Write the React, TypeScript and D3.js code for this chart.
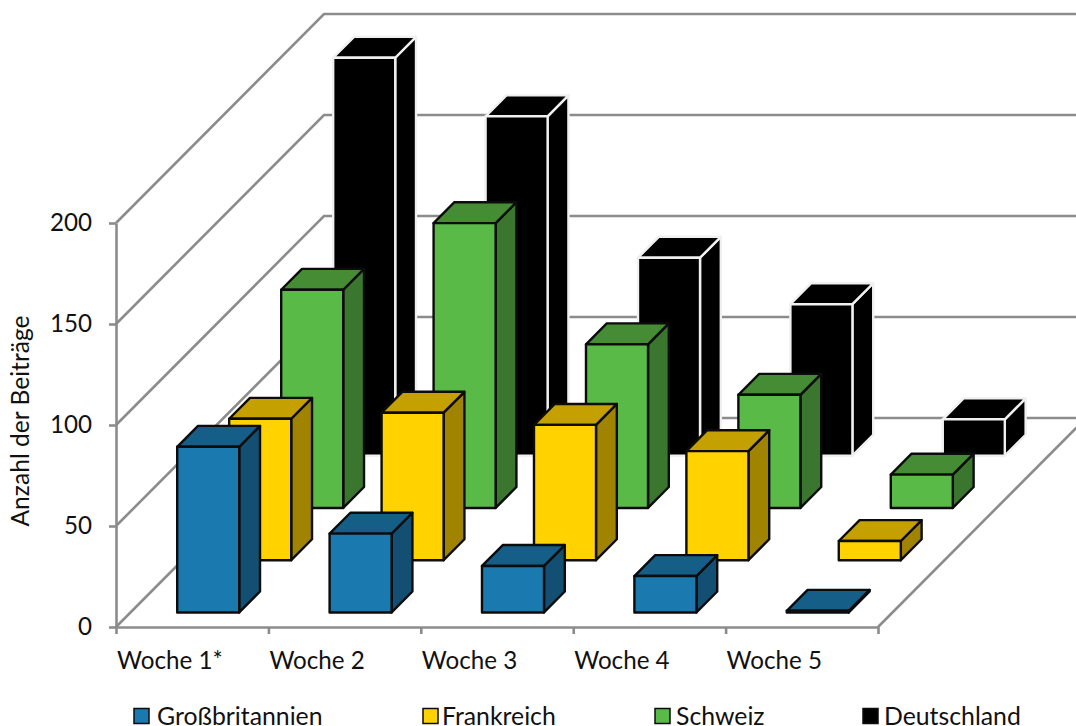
import * as d3 from 'd3'
import { useEffect, useRef } from 'react'

const WIDTH = 1076
const HEIGHT = 726
const FONT = 'Lato, sans-serif'

const weeks = ['Woche 1*', 'Woche 2', 'Woche 3', 'Woche 4', 'Woche 5']
const seriesNames = ['Großbritannien', 'Frankreich', 'Schweiz', 'Deutschland']
const grossbritannien = [82, 39, 23, 18, 0.8]
const frankreich = [70, 73, 67, 54, 9.5]
const schweiz = [108, 141, 81, 56, 16.5]
const deutschland = [197, 168, 98, 75, 18]
const seriesValues = [grossbritannien, frankreich, schweiz, deutschland]
const yTicks = [0, 50, 100, 150, 200]

const frontColors = ['#1a7aaf', '#ffd200', '#5aba47', '#000000']
const topColors = ['#155e87', '#c4a000', '#458c34', '#000000']
const sideColors = ['#124f72', '#a08400', '#3a762d', '#000000']
const edgeColors = ['#0c0c0c', '#0c0c0c', '#0c0c0c', '#f0f0f0']
const legendX = [134, 423, 655, 863]
const legendTextX = [157, 442, 676, 884]

const GRID = '#8c8c8c'
const LEFT = 116
const RIGHT = 878
const BASE_Y = 627
const TOP_Y = 223
const DEPTH_X = 208
const DEPTH_Y = 209
const DEPTH_SHIFT = 1.1
const BAR_SHIFT = 1.5

export default function App() {
  const svgRef = useRef<SVGSVGElement>(null)

  useEffect(() => {
    if (!svgRef.current) return
    const svg = d3.select(svgRef.current)
    svg.selectAll('*').remove()

    const y = d3.scaleLinear().domain([0, 200]).range([BASE_Y, TOP_Y])
    const xAxisScale = d3.scaleLinear().domain([0, weeks.length]).range([LEFT, RIGHT])
    const x = d3.scaleBand<string>().domain(weeks)
      .range([LEFT + BAR_SHIFT, RIGHT + BAR_SHIFT])
      .paddingInner(0.593)
      .paddingOuter(0.2965)
    // depth runs back along the oblique floor, same band for dx and dy
    const depth = d3.scaleBand<string>().domain(seriesNames)
      .range([-DEPTH_SHIFT, DEPTH_Y - DEPTH_SHIFT])
      .paddingInner(0.6)
      .paddingOuter(0.3)
    const dx = (d: number) => d * DEPTH_X / DEPTH_Y
    const dy = (d: number) => -d

    const line = d3.line()

    // Back wall grid and side wall diagonals
    const grid = svg.append('g').attr('fill', 'none').attr('stroke', GRID).attr('stroke-width', 2.6)
    yTicks.forEach(t => {
      grid.append('path').attr('d', line([
        [LEFT, y(t)],
        [LEFT + DEPTH_X, y(t) - DEPTH_Y],
        [RIGHT + DEPTH_X, y(t) - DEPTH_Y],
      ]))
    })
    grid.append('path').attr('d', line([
      [RIGHT, BASE_Y],
      [RIGHT + DEPTH_X, BASE_Y - DEPTH_Y],
    ]))

    // Bars, back series first
    const order = d3.range(seriesNames.length).reverse()
    order.forEach(s => {
      const d0 = depth(seriesNames[s]) as number
      const d1 = d0 + depth.bandwidth()
      const g = svg.append('g')
        .attr('stroke', edgeColors[s])
        .attr('stroke-width', 2.4)
        .attr('stroke-linejoin', 'round')
      weeks.forEach((w, i) => {
        const v = seriesValues[s][i]
        const x0 = x(w) as number
        const x1 = x0 + x.bandwidth()
        const yTop = y(v)
        const yBase = y(0)
        const poly = (pts: [number, number][], fill: string) =>
          g.append('path').attr('d', line(pts) + 'Z').attr('fill', fill)
        poly([
          [x1 + dx(d0), yBase + dy(d0)],
          [x1 + dx(d1), yBase + dy(d1)],
          [x1 + dx(d1), yTop + dy(d1)],
          [x1 + dx(d0), yTop + dy(d0)],
        ], sideColors[s])
        poly([
          [x0 + dx(d0), yTop + dy(d0)],
          [x1 + dx(d0), yTop + dy(d0)],
          [x1 + dx(d1), yTop + dy(d1)],
          [x0 + dx(d1), yTop + dy(d1)],
        ], topColors[s])
        poly([
          [x0 + dx(d0), yBase + dy(d0)],
          [x1 + dx(d0), yBase + dy(d0)],
          [x1 + dx(d0), yTop + dy(d0)],
          [x0 + dx(d0), yTop + dy(d0)],
        ], frontColors[s])
      })
    })

    // Axes
    const yAxis = svg.append('g')
      .attr('transform', `translate(${LEFT},0)`)
      .call(d3.axisLeft(y).tickValues(yTicks).tickSize(7).tickPadding(17).tickSizeOuter(0))
    const xAxis = svg.append('g')
      .attr('transform', `translate(0,${BASE_Y})`)
      .call(d3.axisBottom(xAxisScale)
        .tickValues(d3.range(weeks.length + 1))
        .tickSize(7)
        .tickPadding(18)
        .tickSizeOuter(0)
        .tickFormat(d => weeks[Number(d)] ?? ''))
    for (const a of [yAxis, xAxis]) {
      a.selectAll('path,line').attr('stroke', GRID).attr('stroke-width', 2.6)
      a.selectAll('text')
        .attr('fill', '#111')
        .attr('font-family', FONT)
        .attr('font-size', 24.2)
    }
    xAxis.selectAll('text').attr('text-anchor', 'start').attr('dx', 0.5)

    svg.append('text')
      .attr('transform', 'translate(29,421) rotate(-90)')
      .attr('text-anchor', 'middle')
      .attr('font-family', FONT)
      .attr('font-size', 24.6)
      .attr('fill', '#111')
      .text('Anzahl der Beiträge')

    // Legend
    const legend = svg.append('g')
    seriesNames.forEach((name, i) => {
      legend.append('rect')
        .attr('x', legendX[i])
        .attr('y', 708.5)
        .attr('width', 15)
        .attr('height', 15)
        .attr('fill', frontColors[i])
        .attr('stroke', '#0c0c0c')
        .attr('stroke-width', 1.5)
      legend.append('text')
        .attr('x', legendTextX[i])
        .attr('y', 724.5)
        .attr('font-family', FONT)
        .attr('font-size', 24.8)
        .attr('fill', '#111')
        .text(name)
    })
  }, [])

  return (
    <svg
      ref={svgRef}
      width={WIDTH}
      height={HEIGHT}
      style={{ position: 'absolute', left: 0, top: 0, background: '#fff' }}
    />
  )
}
